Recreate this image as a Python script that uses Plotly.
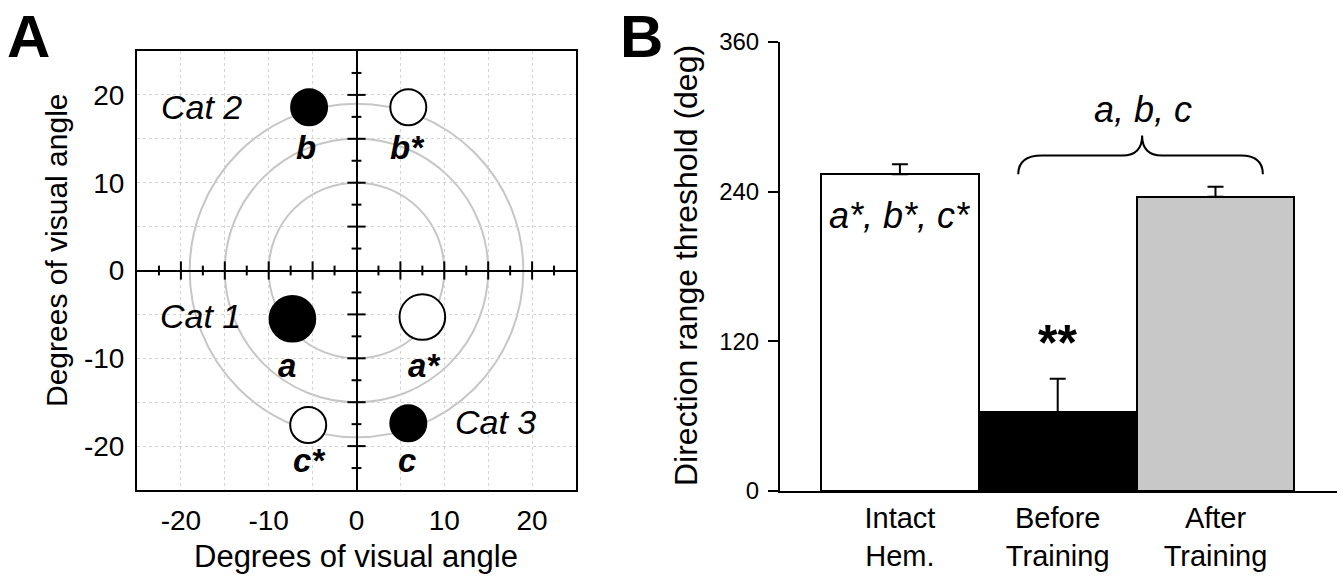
import numpy as np
import plotly.graph_objects as go

W, H = 1344, 577

# ---------------- data: panel A (stimulus locations, degrees) ----------------
stim_labels = ["a", "a*", "b", "b*", "c", "c*"]
stim_x = [-7.3, 7.5, -5.4, 5.9, 5.9, -5.5]
stim_y = [-5.5, -5.3, 18.6, 18.6, -17.4, -17.6]
stim_diam_deg = [5.2, 5.2, 4.1, 4.1, 4.1, 4.1]
stim_filled = [True, False, True, False, True, False]
label_x = [-7.9, 7.7, -5.8, 5.8, 5.8, -5.3]
label_y = [-10.8, -10.8, 14.0, 14.0, -21.6, -21.6]
ring_radii = [10, 15, 19]
cat_names = ["Cat 1", "Cat 2", "Cat 3"]
cat_x = [-17.8, -17.7, 15.8]
cat_y = [-5.2, 18.6, -17.3]
axis_ticks_a = [-20, -10, 0, 10, 20]
axis_ticktext_a = ["-20", "-10", "0", "10", "20"]

# ---------------- data: panel B ----------------
groups = ["Intact<br>Hem.", "Before<br>Training", "After<br>Training"]
thresholds = [254, 63, 236]
errors = [8, 27, 8]
bar_colors = ["white", "black", "#c8c8c8"]
ticks_b = [0, 120, 240, 360]

# ---------------- layout helpers ----------------
def px(x):
    return x / W

def py(y):
    return 1 - y / H

A_dom_x = [px(137), px(576)]
A_dom_y = [py(490), py(51)]
B_dom_x = [px(780), px(1337)]
B_dom_y = [py(491), py(42)]

FONT = "Liberation Sans, Arial, Helvetica, sans-serif"
px_per_deg = (576 - 137) / 50.0

fig = go.Figure()

# stimulus discs
for filled in [True, False]:
    idx = [i for i, f in enumerate(stim_filled) if f == filled]
    fig.add_trace(go.Scatter(
        x=[stim_x[i] for i in idx], y=[stim_y[i] for i in idx],
        mode="markers", xaxis="x", yaxis="y", hoverinfo="skip", showlegend=False,
        marker=dict(size=[stim_diam_deg[i] * px_per_deg for i in idx], opacity=1,
                    color="black" if filled else "white",
                    line=dict(color="black", width=2)),
    ))

# tick marks on the zero axes of panel A
minor_pos = np.arange(-22.5, 25, 2.5)
minor_pos = minor_pos[np.abs(minor_pos) > 1e-9]
is_major = np.isclose(np.mod(minor_pos, 5), 0)
tsize = np.where(is_major, 13, 7)
fig.add_trace(go.Scatter(x=minor_pos, y=np.zeros_like(minor_pos), mode="markers",
                         xaxis="x", yaxis="y", hoverinfo="skip", showlegend=False,
                         marker=dict(symbol="line-ns", size=tsize, opacity=1,
                                     line=dict(color="black", width=2))))
fig.add_trace(go.Scatter(x=np.zeros_like(minor_pos), y=minor_pos, mode="markers",
                         xaxis="x", yaxis="y", hoverinfo="skip", showlegend=False,
                         marker=dict(symbol="line-ew", size=tsize, opacity=1,
                                     line=dict(color="black", width=2))))

# bars panel B
fig.add_trace(go.Bar(
    x=[0, 1, 2], y=thresholds, width=1.0, xaxis="x2", yaxis="y2",
    marker=dict(color=bar_colors, line=dict(color="black", width=2)),
    error_y=dict(type="data", array=errors, arrayminus=[0, 0, 0], symmetric=False,
                 width=8, thickness=2, color="black"),
    hoverinfo="skip", showlegend=False,
))

shapes = []
for r in ring_radii:
    shapes.append(dict(type="circle", xref="x", yref="y", x0=-r, x1=r, y0=-r, y1=r,
                       line=dict(color="#c6c6c6", width=2), layer="below"))

# brace in panel B (data coords)
bx0, bx1, bx2, bxm, bx3, bx4, bx5 = 0.75, 0.90, 1.41, 1.535, 1.66, 2.16, 2.30
by0, byh, bypk = 254, 269, 285
brace = (f"M {bx0},{by0} Q {bx0},{byh} {bx1},{byh} L {bx2},{byh} "
         f"Q {bxm},{byh} {bxm},{bypk} Q {bxm},{byh} {bx3},{byh} L {bx4},{byh} "
         f"Q {bx5},{byh} {bx5},{by0}")
shapes.append(dict(type="path", xref="x2", yref="y2", path=brace,
                   line=dict(color="black", width=2)))


def note(text, x, y, size, xref="paper", yref="paper", angle=0):
    return dict(text=text, x=x, y=y, xref=xref, yref=yref, showarrow=False,
                xanchor="center", yanchor="middle", textangle=angle,
                font=dict(size=size, color="black", family=FONT))


ann = []
for lab, lx, ly in zip(stim_labels, label_x, label_y):
    ann.append(note(f"<b><i>{lab}</i></b>", lx, ly, 33, "x", "y"))
for nm, cx, cy in zip(cat_names, cat_x, cat_y):
    ann.append(note(f"<i>{nm}</i>", cx, cy, 34, "x", "y"))

ann += [
    note("<b>A</b>", px(28), py(36), 60),
    note("<b>B</b>", px(641), py(36), 60),
    note("Degrees of visual angle", px(56), py(250), 30, angle=-90),
    note("Degrees of visual angle", px(356), py(556), 31),
    note("Direction range threshold (deg)", px(686), py(266), 32, angle=-90),
    note("<i>a*, b*, c*</i>", 0, 221, 36, "x2", "y2"),
    note("<i>a, b, c</i>", 1.54, 306, 36, "x2", "y2"),
    note("<b>**</b>", 1.0, 119, 50, "x2", "y2"),
]

grid_col = "#d4d4d4"
common_a = dict(range=[-25, 25], tickvals=axis_ticks_a, ticktext=axis_ticktext_a,
                showgrid=True, gridcolor=grid_col, griddash="dot", gridwidth=1,
                minor=dict(dtick=5, showgrid=True, gridcolor=grid_col, griddash="dot"),
                zeroline=True, zerolinecolor="black", zerolinewidth=2,
                showline=True, mirror=True, linecolor="black", linewidth=2,
                ticks="", tickfont=dict(size=28),
                fixedrange=True, automargin=False)
fig.update_layout(
    width=W, height=H, margin=dict(l=0, r=0, t=0, b=0, autoexpand=False),
    paper_bgcolor="white", plot_bgcolor="white",
    font=dict(family=FONT, color="black"),
    xaxis=dict(domain=A_dom_x, ticklabelstandoff=4, **common_a),
    yaxis=dict(domain=A_dom_y, ticklabelstandoff=5, **common_a),
    xaxis2=dict(domain=B_dom_x, range=[-0.76, 2.77], anchor="y2",
                tickvals=[0, 1, 2], ticktext=groups, ticks="",
                showgrid=False, zeroline=False, showline=True, linecolor="black",
                linewidth=2, tickfont=dict(size=29), ticklabelstandoff=0,
                automargin=False, fixedrange=True),
    yaxis2=dict(domain=B_dom_y, range=[0, 360], anchor="x2", tickvals=ticks_b,
                ticks="outside", ticklen=10, tickwidth=2, tickcolor="black",
                showgrid=False, zeroline=False, showline=True, linecolor="black",
                linewidth=2, tickfont=dict(size=24), ticklabelstandoff=4,
                automargin=False, fixedrange=True),
    shapes=shapes, annotations=ann, bargap=0,
)

fig.write_html("out.html", config={"displayModeBar": False},
               post_script="document.body.style.margin='0px';document.body.style.padding='0px';")
